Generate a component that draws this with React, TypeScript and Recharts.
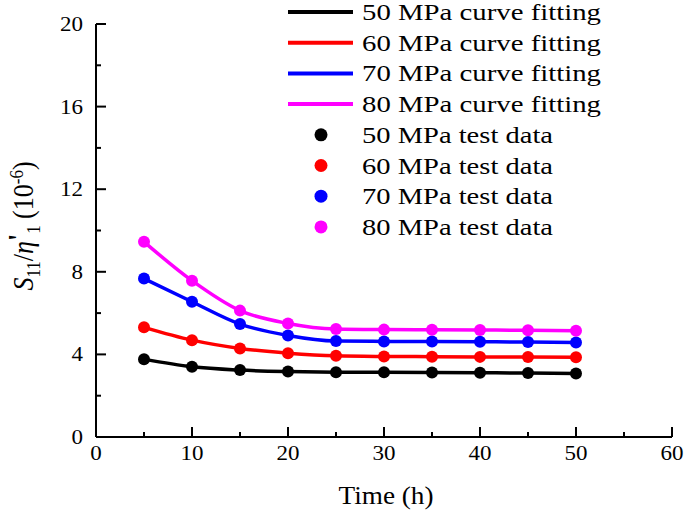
import React from "react";
import { ComposedChart, Line, Scatter, XAxis, YAxis } from "recharts";

const times = [5, 10, 15, 20, 25, 30, 35, 40, 45, 50];
const p50 = [3.77, 3.4, 3.24, 3.17, 3.14, 3.13, 3.12, 3.11, 3.1, 3.08];
const p60 = [5.31, 4.69, 4.29, 4.06, 3.93, 3.9, 3.89, 3.88, 3.87, 3.86];
const p70 = [7.67, 6.55, 5.47, 4.92, 4.65, 4.63, 4.62, 4.61, 4.6, 4.58];
const p80 = [9.45, 7.57, 6.12, 5.5, 5.23, 5.2, 5.19, 5.18, 5.17, 5.15];

const xTicks = [0, 5, 10, 15, 20, 25, 30, 35, 40, 45, 50, 55, 60];
const yTicks = [0, 2, 4, 6, 8, 10, 12, 14, 16, 18, 20];

const series = [
  { key: "p50", name: "50 MPa", color: "#000000" },
  { key: "p60", name: "60 MPa", color: "#ff0000" },
  { key: "p70", name: "70 MPa", color: "#0000ff" },
  { key: "p80", name: "80 MPa", color: "#ff00ff" },
];

const data = times.map((t, i) => ({ t, p50: p50[i], p60: p60[i], p70: p70[i], p80: p80[i] }));

const FONT = "'Liberation Serif', 'Times New Roman', serif";

// the source figure is a bit stretched sideways, so text gets a textLength
const tickLen = (v: number) => String(v).length * 11.5;

// ticks point inward, minor ticks have no label
const XTick = (props: any) => {
  const { x, y, payload } = props;
  const major = payload.value % 10 === 0;
  return (
    <g>
      <line x1={x} y1={y} x2={x} y2={y - (major ? 10 : 5)} stroke="#000" strokeWidth={2} />
      {major && (
        <text
          x={x}
          y={y + 23}
          textAnchor="middle"
          fontSize={20}
          fontFamily={FONT}
          fill="#000"
          textLength={tickLen(payload.value)}
          lengthAdjust="spacingAndGlyphs"
        >
          {payload.value}
        </text>
      )}
    </g>
  );
};

const YTick = (props: any) => {
  const { x, y, payload } = props;
  const major = payload.value % 4 === 0;
  return (
    <g>
      <line x1={x} y1={y} x2={x + (major ? 10 : 5)} y2={y} stroke="#000" strokeWidth={2} />
      {major && (
        <text
          x={x - 13}
          y={y + 7}
          textAnchor="end"
          fontSize={20}
          fontFamily={FONT}
          fill="#000"
          textLength={tickLen(payload.value)}
          lengthAdjust="spacingAndGlyphs"
        >
          {payload.value}
        </text>
      )}
    </g>
  );
};

function Overlay() {
  const rowY = (i: number) => 12 + i * 30.7;
  return (
    <svg width={685} height={513} style={{ position: "absolute", left: 0, top: 0, pointerEvents: "none" }}>
      {series.map((s, i) => (
        <g key={"l" + s.key}>
          <line x1={288} x2={353} y1={rowY(i)} y2={rowY(i)} stroke={s.color} strokeWidth={4} />
          <text x={362} y={rowY(i) + 8} fontSize={23} fontFamily={FONT} textLength={239} lengthAdjust="spacingAndGlyphs">
            {s.name} curve fitting
          </text>
        </g>
      ))}
      {series.map((s, i) => (
        <g key={"d" + s.key}>
          <circle cx={321} cy={rowY(i + 4)} r={6.5} fill={s.color} />
          <text x={362} y={rowY(i + 4) + 8} fontSize={23} fontFamily={FONT} textLength={191} lengthAdjust="spacingAndGlyphs">
            {s.name} test data
          </text>
        </g>
      ))}
      <text transform="translate(33,226) scale(1.15,1) rotate(-90)" textAnchor="middle" fontSize={26} fontFamily={FONT}>
        <tspan fontStyle="italic">S</tspan>
        <tspan fontSize={17} dy={6}>11</tspan>
        <tspan dy={-6}>/</tspan>
        <tspan fontStyle="italic">η</tspan>
        <tspan fontWeight="bold" dy={-4}>'</tspan>
        <tspan fontSize={17} dy={10}>1</tspan>
        <tspan dy={-6}> (10</tspan>
        <tspan fontSize={17} dy={-9}>-6</tspan>
        <tspan dy={9}>)</tspan>
      </text>
      <text x={386} y={504} textAnchor="middle" fontSize={25} fontFamily={FONT} textLength={95} lengthAdjust="spacingAndGlyphs">
        Time (h)
      </text>
    </svg>
  );
}

export default function App() {
  return (
    <div style={{ position: "absolute", left: 0, top: 0, width: 685, height: 513, background: "#fff" }}>
      <ComposedChart width={685} height={513} data={data} margin={{ top: 24, right: 13, bottom: 36, left: 36 }}>
        <XAxis
          dataKey="t"
          type="number"
          domain={[0, 60]}
          ticks={xTicks}
          interval={0}
          height={40}
          tickSize={0}
          tickMargin={0}
          tickLine={false}
          axisLine={{ stroke: "#000", strokeWidth: 2 }}
          tick={<XTick />}
        />
        <YAxis
          type="number"
          domain={[0, 20]}
          ticks={yTicks}
          interval={0}
          width={60}
          tickSize={0}
          tickMargin={0}
          tickLine={false}
          axisLine={{ stroke: "#000", strokeWidth: 2 }}
          tick={<YTick />}
        />
        {series.map((s) => (
          <Line
            key={"line" + s.key}
            dataKey={s.key}
            type="monotone"
            stroke={s.color}
            strokeWidth={3.5}
            dot={false}
            activeDot={false}
            isAnimationActive={false}
          />
        ))}
        {series.map((s) => (
          <Scatter
            key={"sc" + s.key}
            dataKey={s.key}
            fill={s.color}
            shape={(p: any) => <circle cx={p.cx} cy={p.cy} r={6} fill={s.color} />}
            isAnimationActive={false}
          />
        ))}
      </ComposedChart>
      <Overlay />
    </div>
  );
}
